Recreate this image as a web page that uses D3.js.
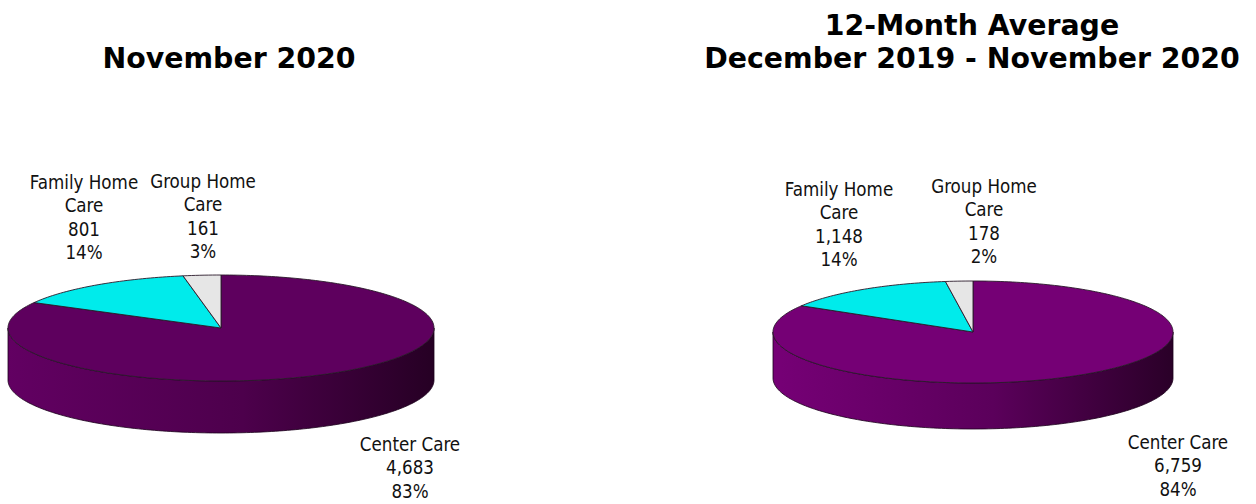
<!DOCTYPE html>
<html>
<head>
  <meta charset="UTF-8">
  <style>
    body { margin: 0; background: #fff; }
    svg { display: block; }
    .title { font-family: "DejaVu Sans", Verdana, sans-serif; font-weight: bold; font-size: 28.4px; fill: #000; }
    .lbl { font-family: "DejaVu Sans Condensed", "DejaVu Sans", sans-serif; font-stretch: condensed; font-size: 18.6px; fill: #111; }
  </style>
  <title>Care pies</title>
</head>
<body>
<svg></svg>
<script src="https://d3js.org/d3.v7.min.js"></script>
<script>

// data
const categories = ["Center Care", "Family Home Care", "Group Home Care"];
const labelLines = [["Center Care"], ["Family Home", "Care"], ["Group Home", "Care"]];
const novValues = [4683, 801, 161];
const avgValues = [6759, 1148, 178];
const novTitle = ["November 2020"];
const avgTitle = ["12-Month Average", "December 2019 - November 2020"];

let width = 1256, height = 504;

let svg = d3.select("svg")
    .attr("width", width)
    .attr("height", height);

let defs = svg.append("defs");

// layout of the two pies
let charts = [
  { values: novValues, title: novTitle, tx: 229, ty: [68],
    cx: 221, cy: 328, rx: 213, ry: 53, depth: 52,
    top: ["#5e005e", "#00ebeb", "#e6e6e6"], side0: "#620062", side1: "#260024",
    labels: [[410, 444], [84, 182], [203, 181]] },
  { values: avgValues, title: avgTitle, tx: 972, ty: [35, 68],
    cx: 973, cy: 332, rx: 200, ry: 51, depth: 46,
    top: ["#750075", "#00ebeb", "#e6e6e6"], side0: "#760076", side1: "#2a0028",
    labels: [[1178, 442], [839, 189], [984, 186]] }
];

let pie = d3.pie().sort(null).value(d => d);

charts.forEach((c, ci) => {
  let g = svg.append("g");
  let total = d3.sum(c.values);
  let arcs = pie(c.values);

  let px = a => c.cx + c.rx * Math.sin(a);
  let py = a => c.cy - c.ry * Math.cos(a);

  function arcPts(a0, a1, dy) {
    let n = Math.max(2, Math.ceil((a1 - a0) / 0.02));
    return d3.range(n + 1).map(i => {
      let a = a0 + (a1 - a0) * i / n;
      return [px(a), py(a) + dy];
    });
  }

  let grad = defs.append("linearGradient")
      .attr("id", "side" + ci)
      .attr("gradientUnits", "userSpaceOnUse")
      .attr("x1", c.cx - c.rx).attr("x2", c.cx + c.rx)
      .attr("y1", 0).attr("y2", 0);
  grad.append("stop").attr("offset", 0).attr("stop-color", c.side0);
  grad.append("stop").attr("offset", 0.55).attr("stop-color", d3.interpolateRgb(c.side0, c.side1)(0.35));
  grad.append("stop").attr("offset", 1).attr("stop-color", c.side1);

  let line = d3.line();

  // side walls (front half only)
  arcs.forEach((d, i) => {
    let a0 = Math.max(d.startAngle, Math.PI / 2);
    let a1 = Math.min(d.endAngle, Math.PI * 3 / 2);
    if (a1 <= a0) return;
    let topEdge = arcPts(a0, a1, 0);
    let botEdge = arcPts(a0, a1, c.depth).reverse();
    g.append("path")
      .attr("d", line(topEdge.concat(botEdge)) + "Z")
      .attr("fill", i == 0 ? "url(#side" + ci + ")" : c.top[i])
      .attr("stroke", "#1a001a")
      .attr("stroke-width", 0.8);
  });

  // top faces
  arcs.forEach((d, i) => {
    let pts = [[c.cx, c.cy]].concat(arcPts(d.startAngle, d.endAngle, 0));
    g.append("path")
      .attr("d", line(pts) + "Z")
      .attr("fill", c.top[i])
      .attr("stroke", "#2a1a2a")
      .attr("stroke-width", 0.9)
      .attr("stroke-linejoin", "round");
  });

  // labels
  arcs.forEach((d, i) => {
    let lines = labelLines[i].concat([d3.format(",")(d.value), Math.round(d.value / total * 100) + "%"]);
    let t = g.append("text")
      .attr("class", "lbl")
      .attr("text-anchor", "middle");
    lines.forEach((s, k) => {
      t.append("tspan")
        .attr("x", c.labels[i][0])
        .attr("y", c.labels[i][1] + 7 + k * 23.4)
        .text(s);
    });
  });

  // title
  c.title.forEach((s, k) => {
    svg.append("text")
      .attr("class", "title")
      .attr("text-anchor", "middle")
      .attr("x", c.tx)
      .attr("y", c.ty[k])
      .text(s);
  });
});

</script>
</body>
</html>
